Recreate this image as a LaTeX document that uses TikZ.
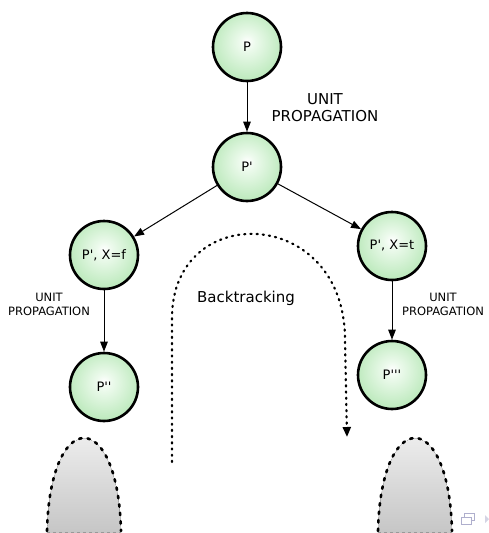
\documentclass[tikz,border=0pt]{standalone}
\usepackage{fontspec}
\setmainfont{DejaVu Sans}
\usetikzlibrary{arrows.meta,shadings}
\definecolor{gfill}{RGB}{138,216,138}
\definecolor{glight}{RGB}{236,250,236}
\definecolor{navc}{RGB}{175,175,205}
\definecolor{navt}{RGB}{212,212,228}
\pgfdeclareradialshading{ball}{\pgfpoint{0bp}{4bp}}{color(0bp)=(white); color(6bp)=(glight); color(48bp)=(gfill); color(60bp)=(gfill)}
\newcommand\myq{\textquotesingle}
\tikzset{
  state/.style={circle, draw=black, line width=2.6pt, minimum size=68pt, inner sep=0pt,
    shading=ball, font=\fontsize{13}{15}\selectfont},
  edge/.style={-{Triangle[width=7.5pt,length=10pt]}, line width=1pt},
  lab/.style={align=center, font=\fontsize{11.5}{14}\selectfont, inner sep=0pt},
  biglab/.style={align=center, font=\fontsize{15}{17}\selectfont, inner sep=0pt},
  dots/.style={line width=2.2pt, dash pattern=on 1.2pt off 5pt, line cap=round},
  domeline/.style={line width=2.6pt, dash pattern=on 2.5pt off 6pt, line cap=round},
  dome/.style={top color=gray!5, bottom color=gray!45, draw=none}
}
\begin{document}
\begin{tikzpicture}[x=1pt,y=-1pt]
\useasboundingbox (0,0) rectangle (489,533);
% domes
\fill[dome] (47,533) .. controls (50,407) and (118,407) .. (121,533) -- cycle;
\fill[dome] (378,533) .. controls (381,407) and (449,407) .. (452,533) -- cycle;
\draw[domeline] (47,531) .. controls (50,407) and (118,407) .. (121,531);
\draw[domeline] (378,531) .. controls (381,407) and (449,407) .. (452,531);
\draw[gray!80, line width=0.6pt, dashed] (47,532) -- (121,532);
\draw[gray!80, line width=0.6pt, dashed] (378,532) -- (452,532);
% nodes
\node[state] (P) at (247,47) {P};
\node[state] (Pp) at (247,167) {P\myq};
\node[state] (Pf) at (104,255) {P\myq, X=f};
\node[state] (Pt) at (392,246) {P\myq, X=t};
\node[state] (Ppp) at (104,387) {P\myq\myq};
\node[state] (Pppp) at (392,375) {P\myq\myq\myq};
% edges
\draw[edge] (P) -- (Pp);
\draw[edge] (Pp) -- (Pf);
\draw[edge] (Pp) -- (Pt);
\draw[edge] (Pf) -- (Ppp);
\draw[edge] (Pt) -- (Pppp);
% labels
\node[biglab] (u1) at (325,108) {UNIT\\PROPAGATION};
\node[lab] (u2) at (49,304) {UNIT\\PROPAGATION};
\node[lab] (u3) at (443,304) {UNIT\\PROPAGATION};
\node[biglab] (bt) at (246,298) {Backtracking};
% backtracking arc
\coordinate (bs) at (172,462);
\coordinate (be) at (347,437);
\draw[dots, -{Triangle[width=8pt,length=10pt]}] (bs) -- (172,318) .. controls (172,200) and (345,205) .. (345,340) -- (be);
% navigation icon
\draw[navc, line width=0.9pt] (464,513) rectangle (474,520);
\fill[white] (460.5,516.5) rectangle (470.5,524);
\draw[navc, line width=0.9pt] (461,517) rectangle (471,524);
\fill[navt] (485,515) -- (489,519) -- (485,523) -- cycle;
\end{tikzpicture}
\end{document}
